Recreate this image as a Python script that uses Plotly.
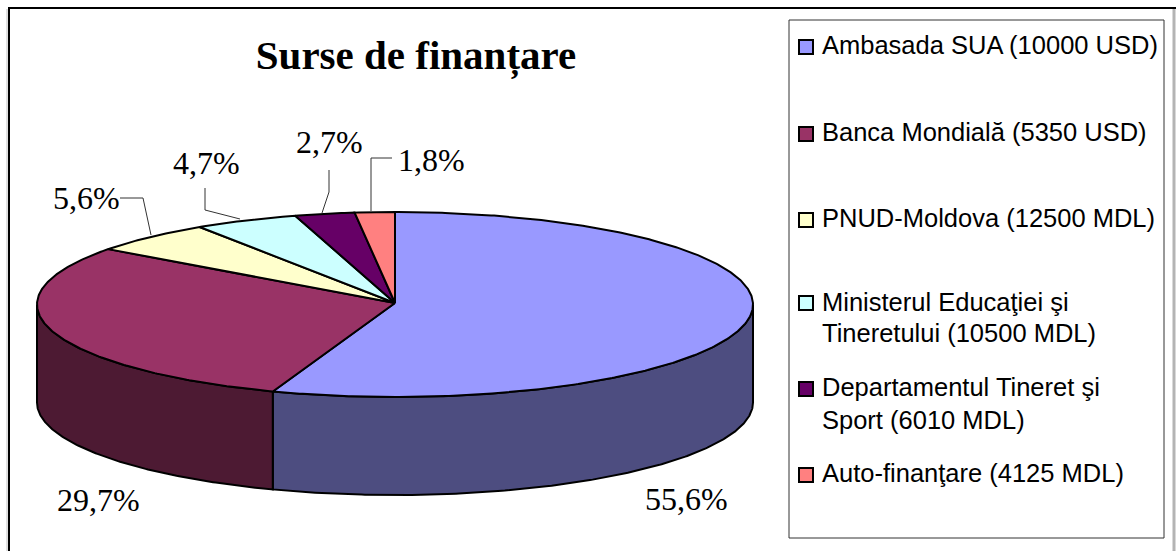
import numpy as np
import plotly.graph_objects as go

categories = ["Ambasada SUA (10000 USD)", "Banca Mondială (5350 USD)", "PNUD-Moldova (12500 MDL)",
              "Ministerul Educaţiei şi Tineretului (10500 MDL)", "Departamentul Tineret şi Sport (6010 MDL)",
              "Auto-finanţare (4125 MDL)"]
shares = [55.6, 29.7, 5.6, 4.7, 2.7, 1.8]
share_labels = ["55,6%", "29,7%", "5,6%", "4,7%", "2,7%", "1,8%"]
top_colors = ["#9999FF", "#993366", "#FFFFCC", "#CCFFFF", "#660066", "#FF8080"]
side_colors = ["#4D4D80", "#4D1A33", "#808066", "#668080", "#330033", "#804040"]

legend_lines = [["Ambasada SUA (10000 USD)"], ["Banca Mondială (5350 USD)"], ["PNUD-Moldova (12500 MDL)"],
                ["Ministerul Educaţiei şi", "Tineretului (10500 MDL)"],
                ["Departamentul Tineret şi", "Sport (6010 MDL)"], ["Auto-finanţare (4125 MDL)"]]
legend_text_y = [[45], [132], [218], [302, 333], [387, 420], [473]]
legend_swatch_y = [47, 134, 220, 303, 389, 475]

CX, CY, RX, RY, DEPTH = 395, 304.5, 358, 92.5, 98


def rim(a0, a1):
    t = np.radians(np.linspace(a0, a1, max(int(abs(a1 - a0) * 2), 2)))
    return CX + RX * np.sin(t), CY - RY * np.cos(t)


fig = go.Figure()
edges = np.concatenate([[0], np.cumsum(shares)]) / sum(shares) * 360
LINE = dict(color="black", width=2)

# front wall
for i in range(len(shares)):
    a0, a1 = max(edges[i], 90), min(edges[i + 1], 270)
    if a1 > a0:
        x, y = rim(a0, a1)
        xs = np.concatenate([x, x[::-1], x[:1]])
        ys = np.concatenate([y, y[::-1] + DEPTH, y[:1]])
        fig.add_trace(go.Scatter(x=xs, y=ys, mode="lines", fill="toself", fillcolor=side_colors[i],
                                 line=LINE, hoverinfo="skip", showlegend=False))
# top face
for i in range(len(shares)):
    x, y = rim(edges[i], edges[i + 1])
    fig.add_trace(go.Scatter(x=np.concatenate([[CX], x, [CX]]), y=np.concatenate([[CY - 1.5], y, [CY - 1.5]]),
                             mode="lines", fill="toself", fillcolor=top_colors[i], line=LINE,
                             name=categories[i], text=[share_labels[i]] * (len(x) + 2), hoverinfo="name+text",
                             showlegend=False))
# legend swatches
swatch_x = [806] * len(categories)
fig.add_trace(go.Scatter(x=swatch_x, y=legend_swatch_y, mode="markers", hoverinfo="skip", showlegend=False,
                         marker=dict(symbol="square", size=14, color=top_colors, line=dict(color="black", width=2))))

annotations = []
for lines, ys in zip(legend_lines, legend_text_y):
    for txt, yy in zip(lines, ys):
        annotations.append(dict(x=820, y=yy, text=txt, xref="x", yref="y", showarrow=False, xanchor="left",
                                yanchor="middle", font=dict(family="Liberation Sans", size=25.5, color="black")))
label_pos = [(686, 499), (98, 500), (86, 198), (206, 163), (329, 142), (431, 160)]
for txt, (lx, ly) in zip(share_labels, label_pos):
    annotations.append(dict(x=lx, y=ly, text=txt, xref="x", yref="y", showarrow=False, xanchor="center",
                            yanchor="middle", font=dict(family="Liberation Serif", size=32, color="black")))

shapes = [
    dict(type="rect", x0=789, x1=1164, y0=20, y1=538, xref="x", yref="y", line=dict(color="#333333", width=1),
         layer="below"),
    dict(type="line", x0=1174, x1=1174, y0=9, y1=551, xref="x", yref="y", line=dict(color="#B4B4B4", width=3)),
    dict(type="line", x0=7, x1=7, y0=9, y1=551, xref="x", yref="y", line=dict(color="#C0C0C0", width=1)),
    dict(type="line", x0=8, x1=1176, y0=8, y1=8, xref="x", yref="y", line=dict(color="black", width=2)),
    dict(type="line", x0=9, x1=9, y0=8, y1=551, xref="x", yref="y", line=dict(color="black", width=2)),
]
for path in ["M120,198 L143,198 L151,235", "M205,188 L205,210 L240,219",
             "M329,170 L329,192 L322,213", "M392,158 L371,158 L371,211"]:
    shapes.append(dict(type="path", path=path, xref="x", yref="y", line=dict(color="#333333", width=1)))

fig.update_layout(
    width=1176, height=551, margin=dict(l=0, r=0, t=0, b=0), paper_bgcolor="white", plot_bgcolor="white",
    xaxis=dict(range=[0, 1176], visible=False, fixedrange=True),
    yaxis=dict(range=[551, 0], visible=False, fixedrange=True),
    title=dict(text="<b>Surse de finanțare</b>", x=416 / 1176, y=1 - 55 / 551, xanchor="center", yanchor="middle",
               font=dict(family="Liberation Serif", size=41, color="black")),
    annotations=annotations, shapes=shapes, showlegend=False,
)
fig.write_html("out.html", config={"displayModeBar": False},
               post_script="document.body.style.margin='0';document.documentElement.style.overflow='hidden';")
